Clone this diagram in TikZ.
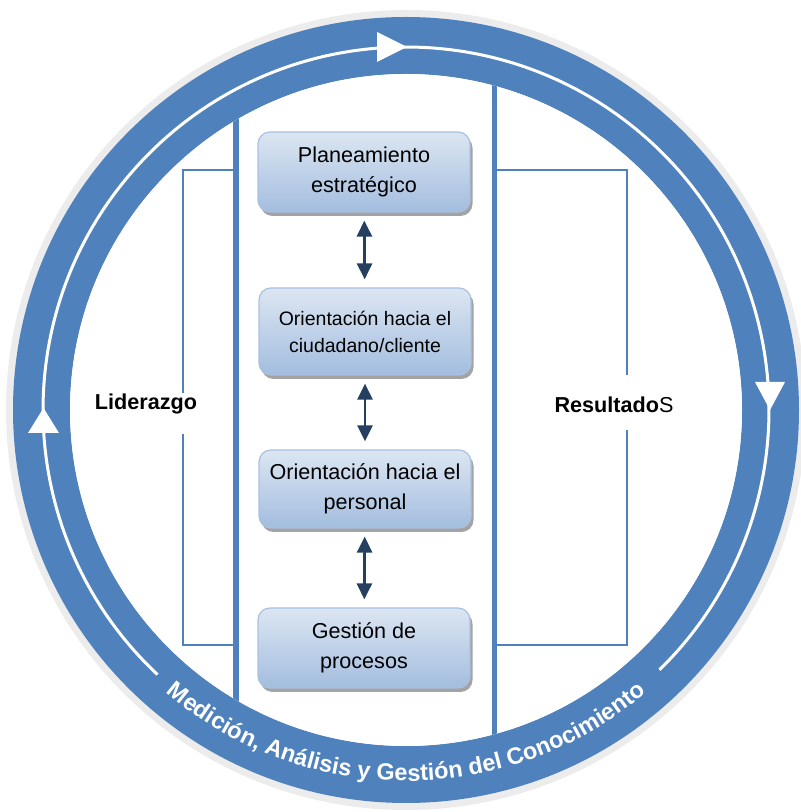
\documentclass[tikz,border=0pt]{standalone}
\usepackage{fontspec}
\setmainfont{Liberation Sans}
\usetikzlibrary{arrows.meta,decorations.text,shadows}
\definecolor{ringblue}{HTML}{4F81BD}
\definecolor{navy}{HTML}{243F60}
\definecolor{boxtop}{HTML}{DCE6F2}
\definecolor{boxbot}{HTML}{A3BDDF}
\definecolor{boxedge}{HTML}{A9C1E0}
\definecolor{halo}{HTML}{ECECEC}
\begin{document}
\begin{tikzpicture}[x=1pt,y=1pt,
  stage/.style={rounded corners=12pt, minimum width=212pt, align=center,
    font=\fontsize{21.6}{30}\selectfont, draw=boxedge, line width=1.2pt,
    top color=boxtop, bottom color=boxbot, inner sep=0pt,
    drop shadow={shadow xshift=2.5pt, shadow yshift=-4pt, fill=black!45, opacity=0.8}},
  link/.style={{Triangle[width=15pt,length=16pt]}-{Triangle[width=15pt,length=16pt]},
    line width=2.7pt, draw=navy, shorten <=8pt, shorten >=8pt},
  rim/.style={draw=ringblue, line width=5.5pt},
  bracket/.style={draw=ringblue, line width=2.5pt},
  sidelabel/.style={font=\fontsize{21.6}{26}\selectfont, inner sep=0pt}
]
\useasboundingbox (0,0) rectangle (801,812);
\coordinate (c) at (406,402);
% halo and ring
\fill[halo] (c) circle[radius=400];
\fill[ringblue, even odd rule] (c) circle[radius=393] (c) circle[radius=336];
\fill[white] (c) circle[radius=336];
% vertical rails
\begin{scope}
  \clip (c) circle[radius=336];
  \draw[rim] (236,0) -- (236,812);
  \draw[rim] (494.5,0) -- (494.5,812);
\end{scope}
% brackets
\coordinate (lt) at (236,642);
\coordinate (ltc) at (183,642);
\coordinate (lbc) at (183,167);
\coordinate (lb) at (236,167);
\coordinate (rt) at (494.5,642);
\coordinate (rtc) at (627,642);
\coordinate (rbc) at (627,167);
\coordinate (rb) at (494.5,167);
\node[sidelabel] (lid) at (146,408) {\bfseries Liderazgo};
\node[sidelabel] (res) at (614,407) {\textbf{Resultado}S};
\draw[bracket] (lt) -- (ltc) -- (183,419);
\draw[bracket] (183,378) -- (lbc) -- (lb);
\draw[bracket] (rt) -- (rtc) -- (627,437);
\draw[bracket] (627,382) -- (rbc) -- (rb);
% white cycle line with arrowheads
\draw[white, line width=3pt] (c) ++(226.8:363) arc[start angle=226.8, end angle=-45.7, radius=363];
\fill[white] (377,780) -- (407,765) -- (377,750) -- cycle;
\fill[white] (755,430) -- (785,430) -- (770,402) -- cycle;
\fill[white] (28,379) -- (59,379) -- (43.5,404) -- cycle;
% curved text
\path[decorate, decoration={text along path, text align=center, text color=white,
  text={|\fontsize{23.5}{28}\selectfont\bfseries|Medición, Análisis y Gestión del Conocimiento}}]
  (c) ++(229.7:371) arc[start angle=229.7, end angle=310.3, radius=371];
% stages
\node[stage, minimum height=80pt] (p1) at (364,640) {Planeamiento\\estratégico};
\node[stage, minimum height=87pt, font=\fontsize{19.5}{27}\selectfont] (p2) at (365,480.5) {Orientación hacia el\\ciudadano/cliente};
\node[stage, minimum height=78pt] (p3) at (365,323) {Orientación hacia el\\personal};
\node[stage, minimum height=80pt] (p4) at (364,164) {Gestión de\\procesos};
% links
\draw[link] (p1) -- (p2);
\draw[link] (p2) -- (p3);
\draw[link] (p3) -- (p4);
\end{tikzpicture}
\end{document}
